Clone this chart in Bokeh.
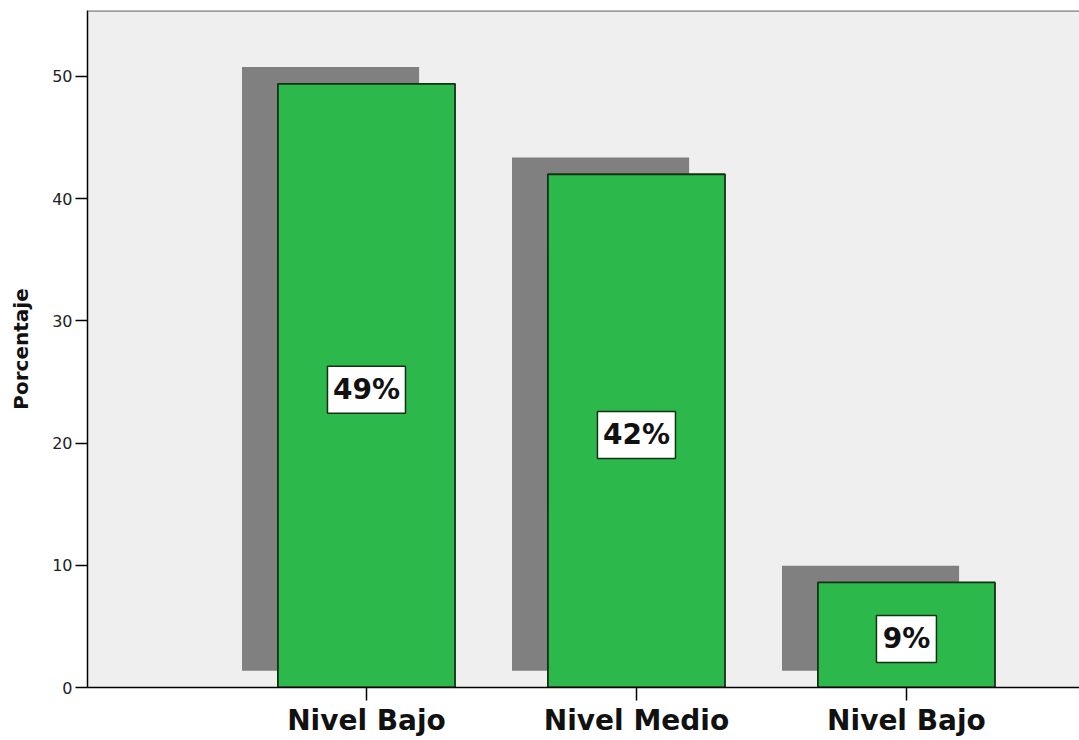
from bokeh.plotting import figure
from bokeh.models import ColumnDataSource, Span, FixedTicker, Range1d
from bokeh.core.properties import value
from bokeh.embed import file_html
from bokeh.resources import INLINE

categories = ["Nivel Bajo", "Nivel Medio", "Nivel Bajo"]
values = [49.4, 42.0, 8.6]
labels = ["49%", "42%", "9%"]
y_ticks = [0, 10, 20, 30, 40, 50]

xs = list(range(1, len(values) + 1))
bar_w = 0.656
sh_dx = -0.133
sh_dy = 1.37

src = ColumnDataSource(dict(
    x=xs,
    top=values,
    sx=[x + sh_dx for x in xs],
    stop=[v + sh_dy for v in values],
    ly=[v / 2 - 0.33 for v in values],
    lab=labels,
    bw=[78 if len(l) > 2 else 60 for l in labels],
))

p = figure(width=1079, height=740, output_backend="svg", toolbar_location=None,
           x_range=Range1d(-0.0333, 3.641), y_range=Range1d(0, 55.4),
           min_border_left=87, min_border_right=0, min_border_top=10, min_border_bottom=53)

p.background_fill_color = "#EFEFEF"
p.border_fill_color = "white"
p.outline_line_color = None
p.grid.visible = False

p.vbar(x="sx", top="stop", bottom=sh_dy, width=bar_w, source=src,
       fill_color="#808080", line_color=None)
p.vbar(x="x", top="top", bottom=0, width=bar_w, source=src,
       fill_color="#2DB84B", line_color="#163016", line_width=1.8)

p.rect(x="x", y="ly", width="bw", height=47, width_units="screen", height_units="screen",
       source=src, fill_color="white", line_color="#163016", line_width=1.5)
p.text(x="x", y="ly", text="lab", source=src, text_align="center", text_baseline="middle",
       text_font=value("DejaVu Sans"), text_font_style="bold", text_font_size="28px",
       text_color="#111111")

p.add_layout(Span(location=55.4, dimension="width", line_color="#7F7F7F", line_width=2.5))

# y axis
p.yaxis.ticker = FixedTicker(ticks=y_ticks)
p.yaxis.axis_label = "Porcentaje"
p.yaxis.axis_label_text_font = "DejaVu Sans"
p.yaxis.axis_label_text_font_style = "bold"
p.yaxis.axis_label_text_font_size = "20px"
p.yaxis.axis_label_text_color = "#111111"
p.yaxis.axis_label_standoff = 16
p.yaxis.major_label_text_font = "DejaVu Sans"
p.yaxis.major_label_text_font_size = "16px"
p.yaxis.major_label_text_color = "#222222"
p.yaxis.major_label_standoff = 3
p.yaxis.major_tick_out = 12
p.yaxis.major_tick_in = 0
p.yaxis.minor_tick_line_color = None
p.yaxis.axis_line_color = "black"
p.yaxis.axis_line_width = 1.5
p.yaxis.major_tick_line_color = "black"
p.yaxis.major_tick_line_width = 1.5

# x axis
p.xaxis.ticker = FixedTicker(ticks=xs)
p.xaxis.major_label_overrides = {x: c for x, c in zip(xs, categories)}
p.xaxis.major_label_text_font = "DejaVu Sans"
p.xaxis.major_label_text_font_style = "bold"
p.xaxis.major_label_text_font_size = "28px"
p.xaxis.major_label_text_color = "#111111"
p.xaxis.major_label_standoff = 3
p.xaxis.major_tick_out = 13
p.xaxis.major_tick_in = 0
p.xaxis.minor_tick_line_color = None
p.xaxis.axis_line_color = "black"
p.xaxis.axis_line_width = 1.5
p.xaxis.major_tick_line_color = "black"
p.xaxis.major_tick_line_width = 1.5

open("out.html", "w").write(file_html(p, INLINE))
